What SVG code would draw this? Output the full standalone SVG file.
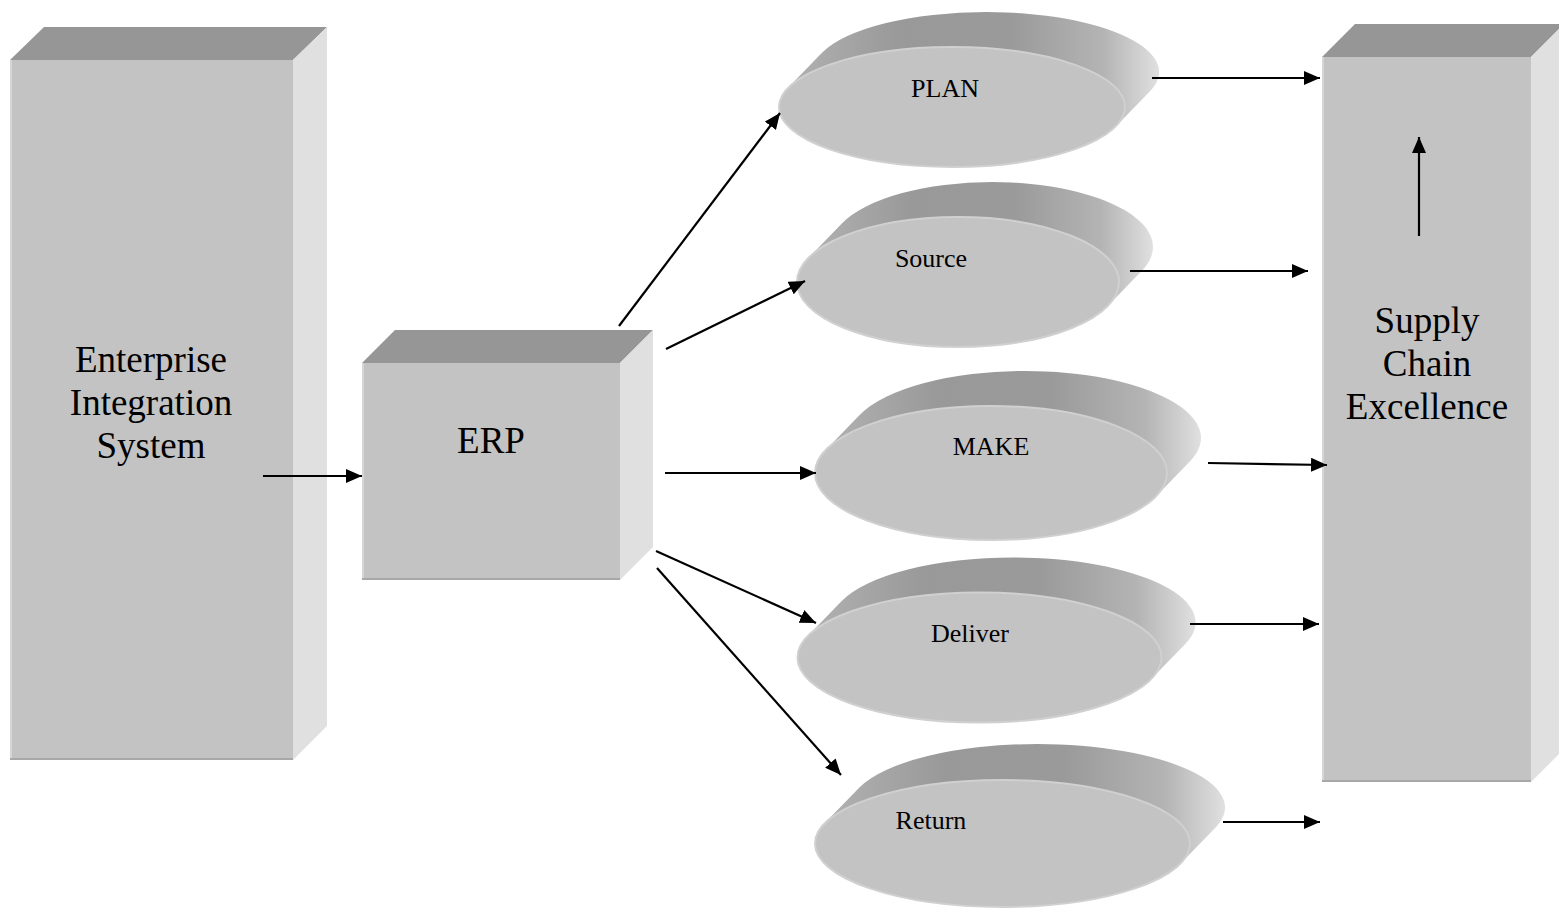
<svg xmlns="http://www.w3.org/2000/svg" width="1559" height="909" viewBox="0 0 1559 909">
<style>
.front{fill:#c3c3c3}
.top{fill:#969696}
.side{fill:#e0e0e0}
.hl{stroke:#d6d6d6;stroke-width:2;fill:none}
.sh{stroke:#a8a8a8;stroke-width:2;fill:none}
.rim{fill:url(#rimGrad)}
.disk{fill:#c3c3c3;stroke:#d0d0d0;stroke-width:2}
.big{font-family:"Liberation Serif","Times New Roman",serif;font-size:37px;fill:#000;text-anchor:middle}
.small{font-family:"Liberation Serif","Times New Roman",serif;font-size:26px;fill:#000;text-anchor:middle}
.conn{stroke:#000;stroke-width:2.2;fill:none;marker-end:url(#arrow)}
</style>
<defs>
<marker id="arrow" markerUnits="userSpaceOnUse" markerWidth="17" markerHeight="14" refX="16" refY="7" orient="auto">
<path d="M0,0 L16,7 L0,14 z" fill="#000"/>
</marker>
<linearGradient id="rimGrad" x1="0" y1="0" x2="1" y2="0">
<stop offset="0" stop-color="#b2b2b2"/>
<stop offset="0.3" stop-color="#999999"/>
<stop offset="0.6" stop-color="#9a9a9a"/>
<stop offset="0.85" stop-color="#b4b4b4"/>
<stop offset="1" stop-color="#e0e0e0"/>
</linearGradient>
</defs>
<rect width="1559" height="909" fill="#ffffff"/>

<g id="enterprise">
<rect class="front" x="10" y="60" width="283" height="700"/>
<polygon class="top" points="10,60 44,27 327,27 293,60"/>
<polygon class="side" points="293,60 327,27 327,726 293,760"/>
<line class="hl" x1="11" y1="60" x2="11" y2="759"/>
<line class="sh" x1="10" y1="759" x2="293" y2="759"/>
<text class="big" x="151" y="372">Enterprise</text>
<text class="big" x="151" y="415">Integration</text>
<text class="big" x="151" y="458">System</text>
</g>

<g id="erp">
<rect class="front" x="362" y="363" width="258" height="217"/>
<polygon class="top" points="362,363 395,330 653,330 620,363"/>
<polygon class="side" points="620,363 653,330 653,547 620,580"/>
<line class="hl" x1="363" y1="363" x2="363" y2="579"/>
<line class="sh" x1="362" y1="579" x2="620" y2="579"/>
<text class="big" x="491" y="453">ERP</text>
</g>

<g id="sce">
<rect class="front" x="1322" y="57" width="209" height="725"/>
<polygon class="top" points="1322,57 1355,24 1564,24 1531,57"/>
<polygon class="side" points="1531,57 1564,24 1564,749 1531,782"/>
<line class="hl" x1="1323" y1="57" x2="1323" y2="781"/>
<line class="sh" x1="1322" y1="781" x2="1531" y2="781"/>
<text class="big" x="1427" y="333">Supply</text>
<text class="big" x="1427" y="376">Chain</text>
<text class="big" x="1427" y="419">Excellence</text>
</g>

<g id="plan">
<path class="rim" d="M1116,126.2 L1150,91.2 A173,60 0 0 0 986,12 A173,60 0 0 0 822,52.8 L788,87.8 A173,60 0 0 1 952,47 A173,60 0 0 1 1116,126.2 Z"/>
<ellipse class="disk" cx="952" cy="107" rx="173" ry="60"/>
<text class="small" x="945" y="97">PLAN</text>
</g>

<g id="source">
<path class="rim" d="M1107.9,305.7 L1141.9,270.7 A161,65 0 0 0 992,182 A161,65 0 0 0 842.1,223.3 L808.1,258.3 A161,65 0 0 1 958,217 A161,65 0 0 1 1107.9,305.7 Z"/>
<ellipse class="disk" cx="958" cy="282" rx="161" ry="65"/>
<text class="small" x="931" y="267">Source</text>
</g>

<g id="make">
<path class="rim" d="M1156.1,496.2 L1190.1,461.2 A176,67 0 0 0 1025,371 A176,67 0 0 0 859.9,414.8 L825.9,449.8 A176,67 0 0 1 991,406 A176,67 0 0 1 1156.1,496.2 Z"/>
<ellipse class="disk" cx="991" cy="473" rx="176" ry="67"/>
<text class="small" x="991" y="455">MAKE</text>
</g>

<g id="deliver">
<path class="rim" d="M1151.5,678.8 L1185.5,643.8 A182,65 0 0 0 1013.5,557.5 A182,65 0 0 0 841.5,601.2 L807.5,636.2 A182,65 0 0 1 979.5,592.5 A182,65 0 0 1 1151.5,678.8 Z"/>
<ellipse class="disk" cx="979.5" cy="657.5" rx="182" ry="65"/>
<text class="small" x="970" y="642">Deliver</text>
</g>

<g id="return">
<path class="rim" d="M1180.6,863.4 L1215.6,827.4 A187.5,63.5 0 0 0 1037.5,744 A187.5,63.5 0 0 0 859.4,787.6 L824.4,823.6 A187.5,63.5 0 0 1 1002.5,780 A187.5,63.5 0 0 1 1180.6,863.4 Z"/>
<ellipse class="disk" cx="1002.5" cy="843.5" rx="187.5" ry="63.5"/>
<text class="small" x="931" y="829">Return</text>
</g>

<g id="connectors">
<line class="conn" x1="263" y1="476" x2="362" y2="476"/>
<line class="conn" x1="619" y1="326" x2="780" y2="113"/>
<line class="conn" x1="666" y1="349" x2="805" y2="281"/>
<line class="conn" x1="665" y1="473" x2="816" y2="473"/>
<line class="conn" x1="656" y1="551" x2="816" y2="623"/>
<line class="conn" x1="657" y1="568" x2="841" y2="775"/>
<line class="conn" x1="1152" y1="78" x2="1320" y2="78"/>
<line class="conn" x1="1130" y1="271" x2="1308" y2="271"/>
<line class="conn" x1="1208" y1="463" x2="1327" y2="465"/>
<line class="conn" x1="1190" y1="624" x2="1319" y2="624"/>
<line class="conn" x1="1223" y1="822" x2="1320" y2="822"/>
<line class="conn" x1="1419" y1="236" x2="1419" y2="137"/>
</g>
</svg>
